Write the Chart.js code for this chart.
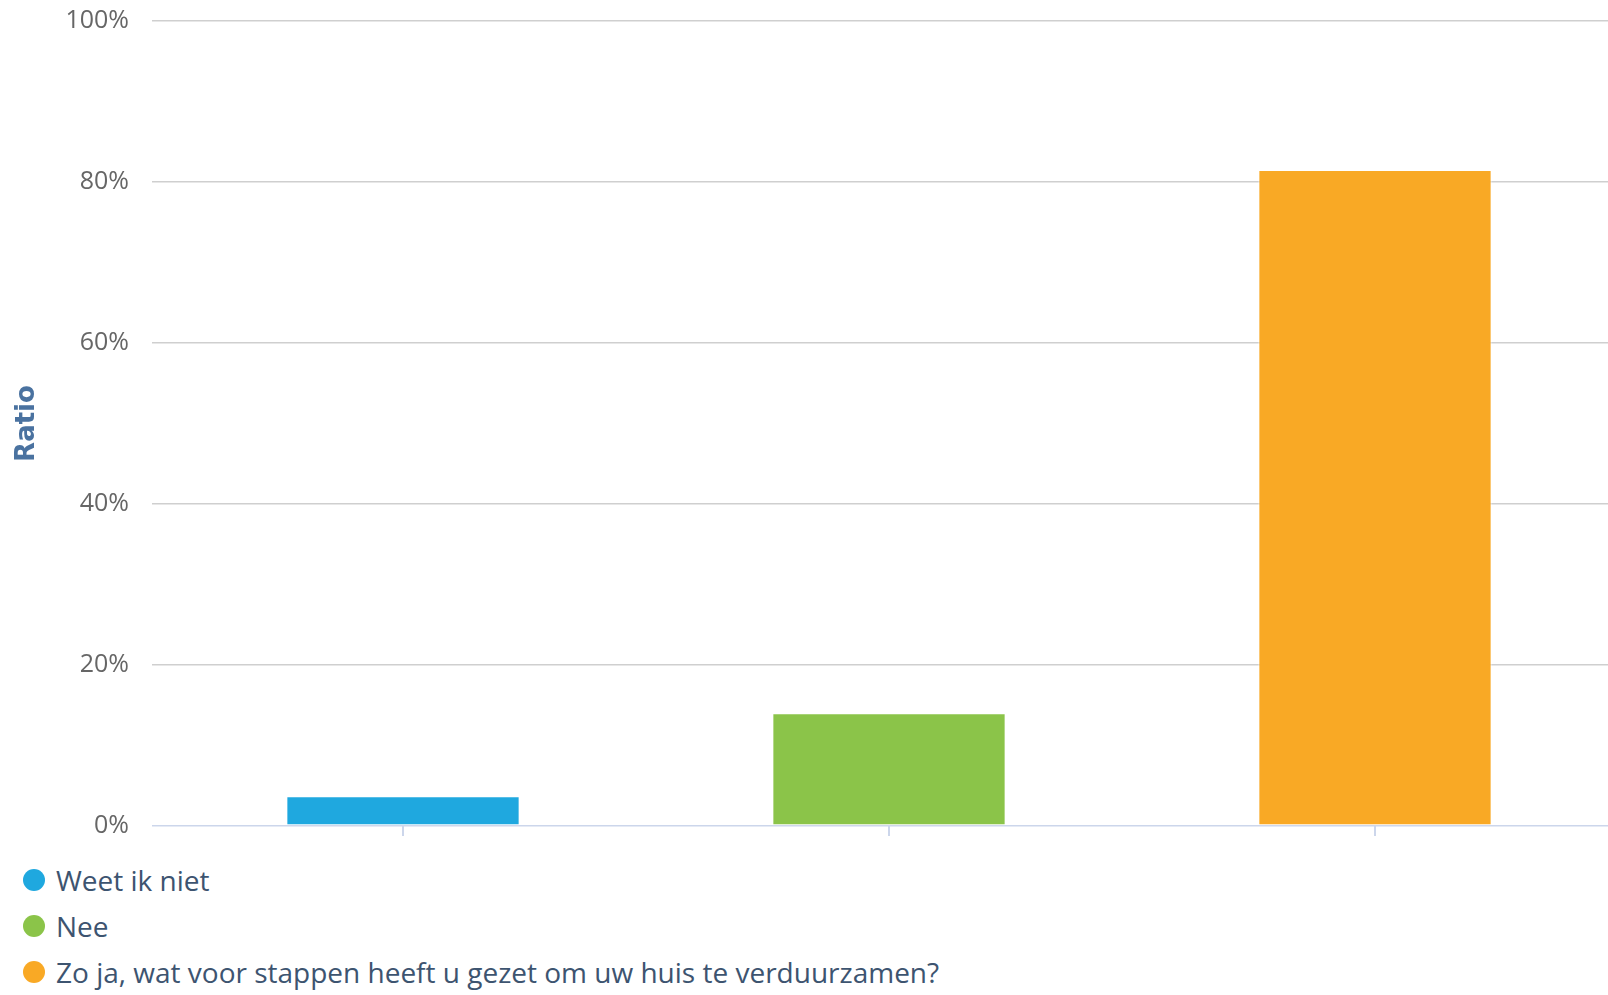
<!DOCTYPE html>
<html>
<head>
<meta charset="utf-8">
<script src="https://cdn.jsdelivr.net/npm/chart.js@4.4.1/dist/chart.umd.min.js"></script>
<style>
    html, body {
        margin: 0;
        padding: 0;
        background: #ffffff;
        overflow: hidden;
    }
    #wrap {
        position: relative;
        width: 1608px;
        height: 995px;
        overflow: hidden;
    }
    #chart-box {
        position: absolute;
        left: 0;
        top: 0;
        width: 1618px;
        height: 840px;
    }
    #legend {
        position: absolute;
        left: 23px;
        top: 857px;
        margin: 0;
        padding: 0;
        list-style: none;
        font-family: "Open Sans", sans-serif;
        font-size: 28px;
        color: #3d5470;
    }
    #legend li {
        display: flex;
        align-items: center;
        height: 46px;
        white-space: nowrap;
    }
    #legend .dot {
        width: 22px;
        height: 22px;
        border-radius: 50%;
        margin-right: 11px;
        flex: none;
    }
</style>
</head>
<body>
<div id="wrap">
    <div id="chart-box"><canvas id="ratio-chart"></canvas></div>
    <ul id="legend"></ul>
</div>
<script>
// Answers and their share of respondents (percent)
const seriesNames = ['Weet ik niet', 'Nee', 'Zo ja, wat voor stappen heeft u gezet om uw huis te verduurzamen?'];
const seriesValues = [3.7, 14.0, 81.5];
const seriesColors = ['#1fa8df', '#8bc449', '#f9a925'];
const categories = ['', '', ''];
const yTicks = [0, 20, 40, 60, 80, 100];

// one dataset per answer, each sitting in its own slot on the x axis
const datasets = seriesNames.map((name, i) => ({
    label: name,
    data: categories.map((_, j) => (j === i ? seriesValues[i] : null)),
    backgroundColor: seriesColors[i],
    borderColor: 'rgba(255, 255, 255, 0.7)',
    borderWidth: 1,
    borderSkipped: false,
    skipNull: true,
    barPercentage: 0.48,
    categoryPercentage: 1
}));

const ctx = document.getElementById('ratio-chart').getContext('2d');

const chart = new Chart(ctx, {
    type: 'bar',
    data: {
        labels: categories,
        datasets: datasets
    },
    options: {
        responsive: true,
        maintainAspectRatio: false,
        animation: false,
        layout: {
            padding: { top: 21, right: 0, bottom: 4, left: 0 }
        },
        plugins: {
            legend: { display: false },
            tooltip: { enabled: false }
        },
        scales: {
            x: {
                border: { display: false },
                grid: {
                    offset: false,
                    drawOnChartArea: false,
                    drawTicks: true,
                    tickLength: 10,
                    color: '#ccd6eb',
                    lineWidth: 2
                },
                ticks: { display: false }
            },
            y: {
                min: 0,
                max: 100,
                afterFit: function(scale) {
                    // fixed axis width; label overhang handled by layout padding
                    scale.width = 160;
                    scale.paddingTop = 0;
                    scale.paddingBottom = 0;
                },
                afterBuildTicks: function(scale) {
                    scale.ticks = yTicks.map(v => ({ value: v }));
                },
                border: { display: false },
                grid: {
                    drawTicks: true,
                    tickLength: 8,
                    lineWidth: 1.5,
                    color: function(c) {
                        return c.tick && c.tick.value === 0 ? '#ccd6eb' : '#cfcfcf';
                    }
                },
                ticks: {
                    padding: 23,
                    color: '#666666',
                    font: { family: 'Open Sans', size: 25 },
                    callback: function(value) {
                        return value + '%';
                    }
                },
                title: {
                    display: true,
                    text: 'Ratio',
                    color: '#4a72a0',
                    padding: { top: 12, bottom: 0 },
                    font: { family: 'DejaVu Sans', size: 26, weight: 'bold' }
                }
            }
        }
    }
});

// legend list built from the chart's datasets
const legend = document.getElementById('legend');
chart.data.datasets.forEach(ds => {
    const li = document.createElement('li');
    const dot = document.createElement('span');
    dot.className = 'dot';
    dot.style.background = ds.backgroundColor;
    li.appendChild(dot);
    li.appendChild(document.createTextNode(ds.label));
    legend.appendChild(li);
});
</script>
</body>
</html>
